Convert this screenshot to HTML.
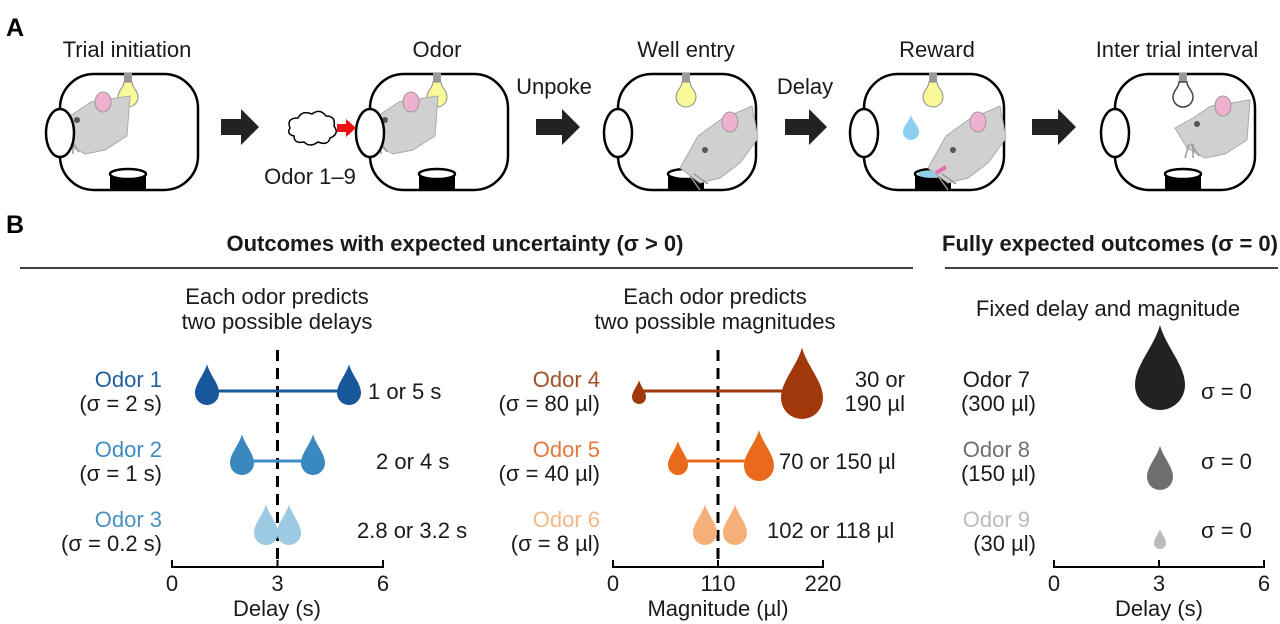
<!DOCTYPE html>
<html><head><meta charset="utf-8"><style>
html,body{margin:0;padding:0;background:#fff;}
svg{display:block;font-family:"Liberation Sans",sans-serif;}
</style></head><body>
<svg width="1280" height="624" viewBox="0 0 1280 624">
<defs>
<path id="d" d="M0,-2.4 C0.25,-1.5 1,-0.8 1,0 A1,1 0 0 1 -1,0 C-1,-0.8 -0.25,-1.5 0,-2.4Z"/>
<g id="bulb"><rect x="-4" y="0" width="8" height="9" fill="#999"/><path d="M-4,9 C-4,15 -10,17 -10,24 A10,10 0 0 0 10,24 C10,17 4,15 4,9Z" fill="#fafa9a" stroke="#888" stroke-width="1"/></g>
<g id="well"><rect x="-18" y="0" width="36" height="17" fill="#000"/><ellipse cx="0" cy="0" rx="18" ry="5" fill="#fff" stroke="#000" stroke-width="2.5"/></g>
<g id="ratL"><path d="M0,0 L18,-10 L36,-22 L62,-26 L75,-28 L72,12 L50,26 L30,30 L12,20 Z" fill="#d0d0d0" stroke="#aaa" stroke-width="1"/><ellipse cx="48" cy="-22" rx="8" ry="10" fill="#f0b0d0" stroke="#999"/><circle cx="22" cy="-4" r="3" fill="#555"/><path d="M14,16 l-4,14 M18,16 l0,14 M16,16 l8,12" stroke="#999" stroke-width="1.5"/></g>
<g id="ratD"><path d="M0,0 L18,-32 L40,-48 L72,-62 L78,-30 L60,-5 L40,10 L20,15 Z" fill="#d0d0d0" stroke="#aaa" stroke-width="1"/><ellipse cx="50" cy="-46" rx="8" ry="10" fill="#f0b0d0" stroke="#999"/><circle cx="25" cy="-18" r="3" fill="#555"/><path d="M10,8 l10,14 M14,6 l14,10" stroke="#999" stroke-width="1.5"/></g>
</defs>

<text x="6" y="36" font-size="25" font-weight="bold">A</text>
<text x="6" y="233" font-size="25" font-weight="bold">B</text>

<g font-size="22" fill="#1a1a1a" text-anchor="middle">
<text x="127" y="57">Trial initiation</text>
<text x="437" y="57">Odor</text>
<text x="686" y="57">Well entry</text>
<text x="937" y="57">Reward</text>
<text x="1177" y="57">Inter trial interval</text>
<text x="554" y="94">Unpoke</text>
<text x="805" y="94">Delay</text>
<text x="310" y="184">Odor 1–9</text>
</g>

<g fill="none" stroke="#000" stroke-width="2.5">
<rect x="60" y="74" width="138" height="116" rx="34"/>
<rect x="370" y="74" width="138" height="116" rx="34"/>
<rect x="618" y="74" width="138" height="116" rx="34"/>
<rect x="864" y="74" width="140" height="116" rx="34"/>
<rect x="1115" y="74" width="140" height="116" rx="34"/>
</g>
<use href="#bulb" x="128" y="73"/><use href="#bulb" x="437" y="73"/><use href="#bulb" x="686" y="73"/><use href="#bulb" x="933" y="73"/>
<g transform="translate(1183,73)"><rect x="-4" y="0" width="8" height="9" fill="#999"/><path d="M-4,9 C-4,15 -10,17 -10,24 A10,10 0 0 0 10,24 C10,17 4,15 4,9Z" fill="#fff" stroke="#444" stroke-width="1.5"/></g>
<use href="#well" x="128" y="174"/><use href="#well" x="437" y="174"/><use href="#well" x="686" y="174"/><use href="#well" x="933" y="174"/><use href="#well" x="1183" y="174"/>
<ellipse cx="933" cy="174" rx="15" ry="3.5" fill="#8cd0f0"/>
<use href="#ratL" x="55" y="124"/><use href="#ratL" x="363" y="124"/><use href="#ratL" x="1175" y="128"/>
<use href="#ratD" x="680" y="168"/><use href="#ratD" x="928" y="168"/>
<path d="M936,173 l10,-6" stroke="#e070b0" stroke-width="4"/>
<path d="M911,115 C913,122 919,126 919,132 A8,8 0 0 1 903,132 C903,126 909,122 911,115Z" fill="#8ccff0"/>
<g fill="#fff" stroke="#000" stroke-width="2.5">
<ellipse cx="60" cy="133" rx="14" ry="24"/><ellipse cx="370" cy="133" rx="14" ry="24"/>
<ellipse cx="618" cy="133" rx="14" ry="24"/><ellipse cx="864" cy="133" rx="14" ry="24"/>
<ellipse cx="1115" cy="133" rx="14" ry="24"/>
</g>
<path d="M290,128 q-4,-10 8,-10 q4,-8 14,-4 q8,-6 14,2 q10,0 8,10 q6,8 -4,12 q-2,8 -12,4 q-8,6 -14,0 q-10,2 -10,-6 q-8,-2 -4,-8Z" fill="#fff" stroke="#000" stroke-width="1.5"/>
<path d="M337,124 h9 v-5 l10,9 l-10,9 v-5 h-9Z" fill="#f01010"/>
<g fill="#222">
<path d="M221,119 h20 v-10 l18,18 l-18,18 v-10 h-20Z"/>
<path d="M536,119 h26 v-10 l18,18 l-18,18 v-10 h-26Z"/>
<path d="M785,119 h24 v-10 l18,18 l-18,18 v-10 h-24Z"/>
<path d="M1032,119 h26 v-10 l18,18 l-18,18 v-10 h-26Z"/>
</g>

<g font-size="22" font-weight="bold" text-anchor="middle" fill="#1a1a1a">
<text x="455" y="251">Outcomes with expected uncertainty (σ &gt; 0)</text>
<text x="1110" y="251">Fully expected outcomes (σ = 0)</text>
</g>
<line x1="20" y1="268" x2="913" y2="268" stroke="#000" stroke-width="1.5"/>
<line x1="945" y1="268" x2="1278" y2="268" stroke="#000" stroke-width="1.5"/>
<g font-size="22" text-anchor="middle" fill="#1a1a1a">
<text x="277" y="304">Each odor predicts</text><text x="277" y="329">two possible delays</text>
<text x="715" y="304">Each odor predicts</text><text x="715" y="329">two possible magnitudes</text>
<text x="1108" y="316">Fixed delay and magnitude</text>
</g>

<g stroke="#000" stroke-width="2" fill="none">
<path d="M172,560 V567 H383 V560 M277.5,567 V560"/>
<path d="M613,560 V567 H823 V560 M718,567 V560"/>
<path d="M1054,560 V567 H1264 V560 M1159,567 V560"/>
</g>
<line x1="277.5" y1="350" x2="277.5" y2="567" stroke="#000" stroke-width="3" stroke-dasharray="11,7"/>
<line x1="718" y1="350" x2="718" y2="567" stroke="#000" stroke-width="3" stroke-dasharray="11,7"/>
<line x1="207" y1="391" x2="348" y2="391" stroke="#1a5a9a" stroke-width="3"/>
<use href="#d" transform="translate(207,393) scale(12)" fill="#17579a"/>
<use href="#d" transform="translate(349,393) scale(12)" fill="#17579a"/>
<line x1="242" y1="461" x2="313" y2="461" stroke="#3d8cc4" stroke-width="3"/>
<use href="#d" transform="translate(242,463) scale(12)" fill="#3a88c0"/>
<use href="#d" transform="translate(313,463) scale(12)" fill="#3a88c0"/>
<use href="#d" transform="translate(266,533) scale(12)" fill="#9ccae2"/>
<use href="#d" transform="translate(289,533) scale(12)" fill="#9ccae2"/>

<line x1="639" y1="391" x2="790" y2="391" stroke="#a0380a" stroke-width="3"/>
<use href="#d" transform="translate(639,397) scale(7)" fill="#a0380a"/>
<use href="#d" transform="translate(802,398) scale(21)" fill="#a0380a"/>
<line x1="678" y1="461" x2="759" y2="461" stroke="#e86a1a" stroke-width="3"/>
<use href="#d" transform="translate(678,465) scale(10)" fill="#e86a1a"/>
<use href="#d" transform="translate(759,466) scale(15)" fill="#e86a1a"/>
<use href="#d" transform="translate(705,533) scale(12)" fill="#f5b07a"/>
<use href="#d" transform="translate(735,533) scale(12)" fill="#f5b07a"/>

<use href="#d" transform="translate(1160,385) scale(25)" fill="#222"/>
<use href="#d" transform="translate(1160,477) scale(13)" fill="#6e6e6e"/>
<use href="#d" transform="translate(1160,543) scale(6)" fill="#bbb"/>

<g font-size="22" fill="#1a1a1a" text-anchor="end">
<text x="162" y="387" fill="#1f5f9f">Odor 1</text><text x="162" y="411">(σ = 2 s)</text>
<text x="162" y="457" fill="#3d8cc4">Odor 2</text><text x="162" y="481">(σ = 1 s)</text>
<text x="162" y="527" fill="#4a90c0">Odor 3</text><text x="162" y="551">(σ = 0.2 s)</text>
<text x="600" y="387" fill="#a0502a">Odor 4</text><text x="600" y="411">(σ = 80 µl)</text>
<text x="600" y="457" fill="#e07a40">Odor 5</text><text x="600" y="481">(σ = 40 µl)</text>
<text x="600" y="527" fill="#f5b888">Odor 6</text><text x="600" y="551">(σ = 8 µl)</text>
<text x="905" y="387">30 or</text><text x="905" y="411">190 µl</text>
<text x="1030" y="387">Odor 7</text><text x="1036" y="411">(300 µl)</text>
<text x="1030" y="457" fill="#707070">Odor 8</text><text x="1036" y="481">(150 µl)</text>
<text x="1030" y="527" fill="#bbb">Odor 9</text><text x="1036" y="551">(30 µl)</text>
</g>
<g font-size="22" fill="#1a1a1a">
<text x="368" y="399">1 or 5 s</text>
<text x="376" y="469">2 or 4 s</text>
<text x="357" y="538">2.8 or 3.2 s</text>
<text x="779" y="469">70 or 150 µl</text>
<text x="767" y="538">102 or 118 µl</text>
<text x="1201" y="399">σ = 0</text>
<text x="1201" y="469">σ = 0</text>
<text x="1201" y="538">σ = 0</text>
</g>
<g font-size="22" fill="#1a1a1a" text-anchor="middle">
<text x="172" y="591">0</text><text x="277.5" y="591">3</text><text x="383" y="591">6</text>
<text x="277" y="616">Delay (s)</text>
<text x="613" y="591">0</text><text x="718" y="591">110</text><text x="823" y="591">220</text>
<text x="718" y="616">Magnitude (µl)</text>
<text x="1054" y="591">0</text><text x="1159" y="591">3</text><text x="1264" y="591">6</text>
<text x="1159" y="616">Delay (s)</text>
</g>
</svg>
</body></html>
